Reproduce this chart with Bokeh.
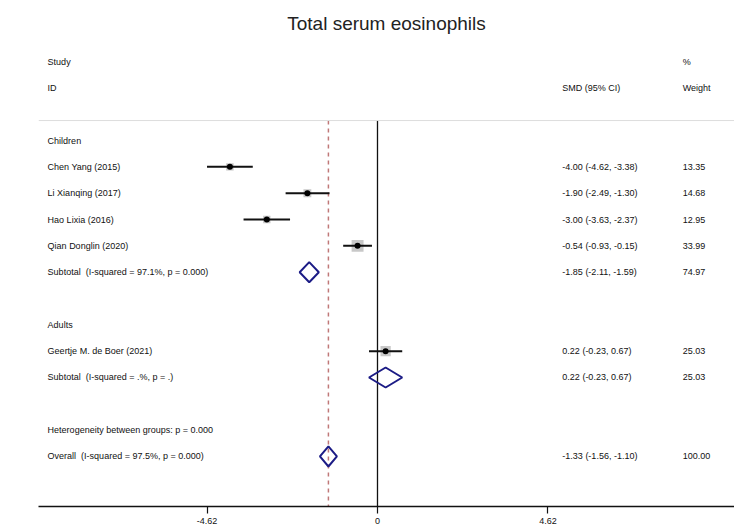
from bokeh.plotting import figure
from bokeh.models import Range1d, FixedTicker, Span
from bokeh.core.properties import value
from bokeh.embed import file_html
from bokeh.resources import INLINE
import numpy as np

# ---- data ----
study_labels = ["Chen Yang (2015)", "Li Xianqing (2017)", "Hao Lixia (2016)",
                "Qian Donglin (2020)", "Geertje M. de Boer (2021)"]
study_rows = [1, 2, 3, 4, 8]
study_est = [-4.00, -1.90, -3.00, -0.54, 0.22]
study_lo = [-4.62, -2.49, -3.63, -0.93, -0.23]
study_hi = [-3.38, -1.30, -2.37, -0.15, 0.67]
study_wt = [13.35, 14.68, 12.95, 33.99, 25.03]

pooled_labels = ["Subtotal\u00a0 (I-squared = 97.1%, p = 0.000)",
                 "Subtotal\u00a0 (I-squared = .%, p = .)",
                 "Overall\u00a0 (I-squared = 97.5%, p = 0.000)"]
pooled_rows = [5, 9, 12]
pooled_est = [-1.85, 0.22, -1.33]
pooled_lo = [-2.11, -0.23, -1.56]
pooled_hi = [-1.59, 0.67, -1.10]
pooled_wt = [74.97, 25.03, 100.00]

group_labels = ["Children", "Adults", "Heterogeneity between groups: p = 0.000"]
group_rows = [0, 7, 11]

tick_values = [-4.62, 0, 4.62]
tick_labels = ["-4.62", "0", "4.62"]

FONT = value("Liberation Sans")
TXT = "#111111"

Y_TOP, Y_BOTTOM = -3.80, 13.9

p = figure(width=734, height=531, output_backend="svg", toolbar_location=None,
           x_range=Range1d(-9.187, 9.675), y_range=Range1d(Y_BOTTOM, Y_TOP),
           min_border_left=38, min_border_right=0, min_border_top=40,
           min_border_bottom=25)
p.title.text = "Total serum eosinophils"
p.title.align = "center"
p.title.text_font = "Liberation Sans"
p.title.text_font_size = "19px"
p.title.text_font_style = "normal"
p.title.text_color = "#222222"
p.title.offset = 0
p.title.standoff = 13
p.outline_line_color = None
p.grid.visible = False
p.yaxis.visible = False
p.background_fill_color = "white"
p.border_fill_color = "white"

xa = p.xaxis[0]
xa.ticker = FixedTicker(ticks=tick_values)
xa.major_label_overrides = {v: l for v, l in zip(tick_values, tick_labels)}
xa.minor_tick_line_color = None
xa.axis_line_color = "#111111"
xa.axis_line_width = 1.5
xa.major_tick_line_color = "#111111"
xa.major_tick_line_width = 1.2
xa.major_tick_out = 7
xa.major_tick_in = 0
xa.major_label_standoff = 4
xa.major_label_text_font = "Liberation Sans"
xa.major_label_text_font_size = "9px"
xa.major_label_text_color = TXT

# header divider
p.add_layout(Span(location=-0.76, dimension="width", line_color="#dddddd", line_width=1))

# null line and overall effect line
p.segment(x0=[0], y0=[-0.76], x1=[0], y1=[Y_BOTTOM], line_color="#111111", line_width=1.3)
p.segment(x0=[pooled_est[2]], y0=[-0.76], x1=[pooled_est[2]], y1=[Y_BOTTOM],
          line_color="#c07878", line_width=1.5, line_dash="4 4")

# weight squares
sizes = [2.05 * np.sqrt(w) for w in study_wt]
p.scatter(x=study_est, y=study_rows, marker="square", size=sizes,
          fill_color="#c8c8c8", line_color=None)
# CI lines
p.segment(x0=study_lo, y0=study_rows, x1=study_hi, y1=study_rows,
          line_color="#111111", line_width=2)
# point estimates
p.scatter(x=study_est, y=study_rows, marker="circle", size=6,
          fill_color="#000000", line_color=None)

# diamonds
h = 0.38
dxs = [[lo, e, hi, e] for lo, e, hi in zip(pooled_lo, pooled_est, pooled_hi)]
dys = [[r, r - h, r, r + h] for r in pooled_rows]
p.patches(xs=dxs, ys=dys, fill_color=None, line_color="#1c1c86", line_width=2)

# text columns
XL, XS, XW = -8.94, 5.01, 8.27
fs = "9px"
p.text(x=[XL, XL], y=[-3, -2], text=["Study", "ID"], text_font=FONT,
       text_font_size=fs, text_color=TXT, text_baseline="middle")
p.text(x=[XS], y=[-2], text=["SMD (95% CI)"], text_font=FONT,
       text_font_size=fs, text_color=TXT, text_baseline="middle")
p.text(x=[XW, XW], y=[-3, -2], text=["%", "Weight"], text_font=FONT,
       text_font_size=fs, text_color=TXT, text_baseline="middle")

p.text(x=[XL] * len(group_rows), y=group_rows, text=group_labels, text_font=FONT,
       text_font_size=fs, text_color=TXT, text_baseline="middle")
p.text(x=[XL] * len(study_rows), y=study_rows, text=study_labels, text_font=FONT,
       text_font_size=fs, text_color=TXT, text_baseline="middle")
p.text(x=[XL] * len(pooled_rows), y=pooled_rows, text=pooled_labels, text_font=FONT,
       text_font_size=fs, text_color=TXT, text_baseline="middle")

def ci_text(e, lo, hi):
    return f"{e:.2f} ({lo:.2f}, {hi:.2f})"

all_rows = study_rows + pooled_rows
all_ci = [ci_text(*t) for t in zip(study_est, study_lo, study_hi)] + \
         [ci_text(*t) for t in zip(pooled_est, pooled_lo, pooled_hi)]
all_wt = [f"{w:.2f}" for w in study_wt + pooled_wt]
p.text(x=[XS] * len(all_rows), y=all_rows, text=all_ci, text_font=FONT,
       text_font_size=fs, text_color=TXT, text_baseline="middle")
p.text(x=[XW] * len(all_rows), y=all_rows, text=all_wt, text_font=FONT,
       text_font_size=fs, text_color=TXT, text_baseline="middle")

open("out.html", "w").write(file_html(p, INLINE))
